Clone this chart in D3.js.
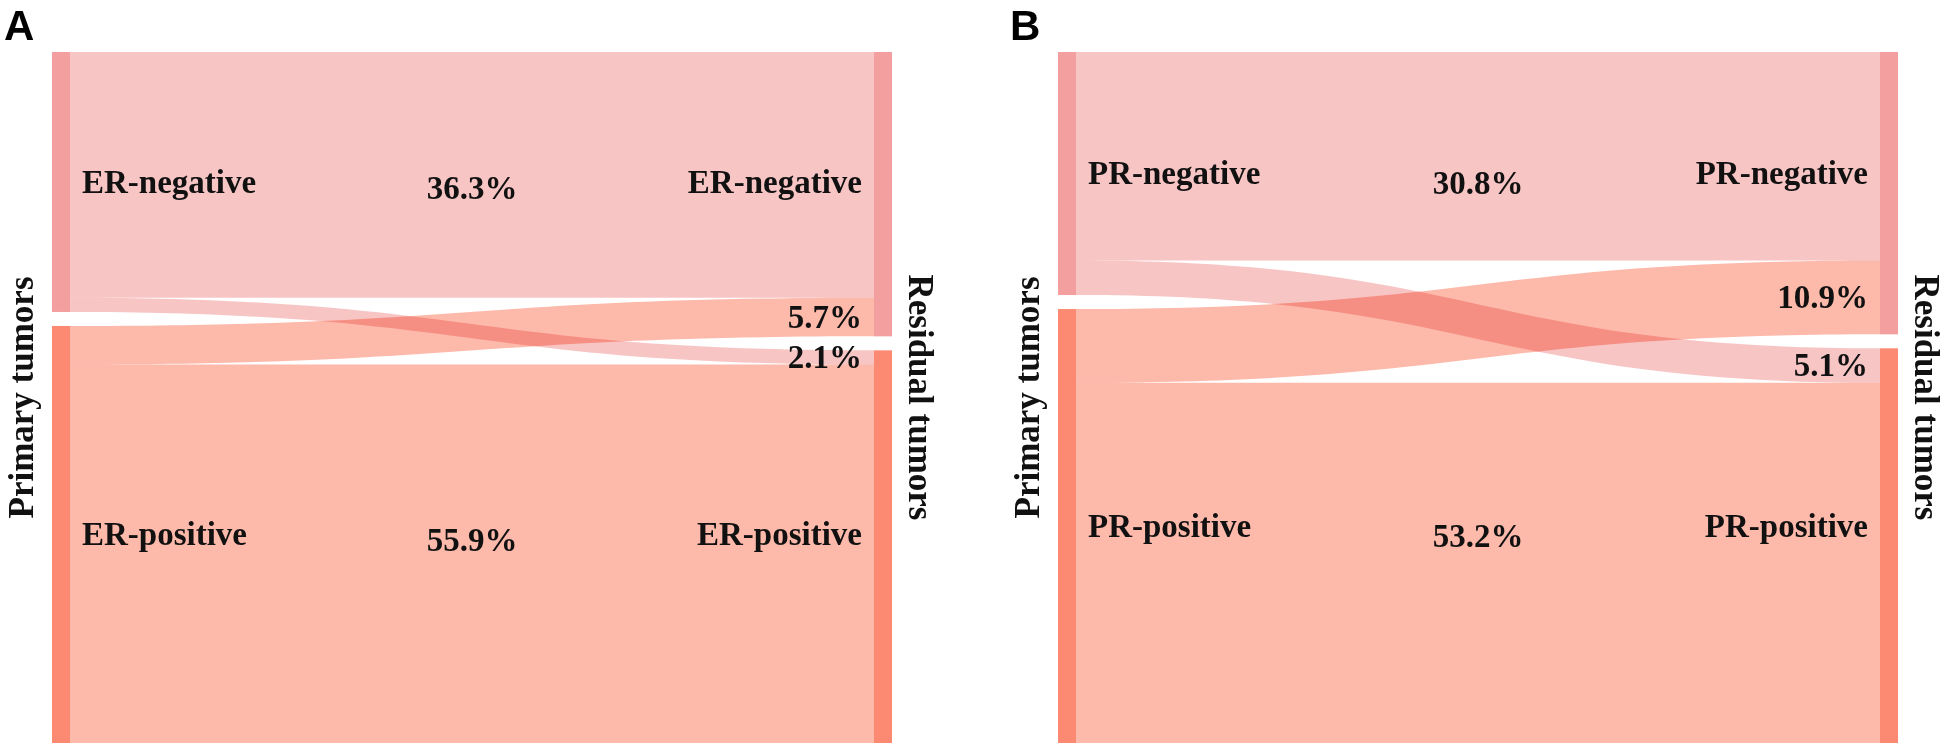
<!DOCTYPE html>
<html>
<head>
<meta charset="utf-8">
<script src="https://cdn.jsdelivr.net/npm/d3@7"></script>
<style>
  body { margin: 0; background: #fff; }
  svg { display: block; }
</style>
</head>
<body>
<div id="chart"></div>
<script>
// categories and flows (% of patients), primary status -> residual status
const panelLetters = ["A", "B"];
const erLabels = ["ER-negative", "ER-positive"];
const prLabels = ["PR-negative", "PR-positive"];
// rows: primary [negative, positive]; cols: residual [negative, positive]
const erFlows = [[36.3, 2.1], [5.7, 55.9]];
const prFlows = [[30.8, 5.1], [10.9, 53.2]];
const leftTitle = "Primary tumors";
const rightTitle = "Residual tumors";

const width = 1948, height = 745;
const margin = {top: 52, bottom: 2};
const nodeWidth = 18, nodeGap = 14, panelWidth = 840;
const panelX = [52, 1058];
const colors = ["#f39f9f", "#fc8a72"];

const svg = d3.select("#chart").append("svg")
    .attr("width", width)
    .attr("height", height)
    .attr("viewBox", [0, 0, width, height]);

svg.append("rect").attr("width", width).attr("height", height).attr("fill", "#fff");

const y = d3.scaleLinear()
    .domain([0, 100])
    .range([0, height - margin.top - margin.bottom - nodeGap]);

function stackNodes(totals) {
  let y0 = margin.top;
  return totals.map((v, i) => {
    const n = {index: i, value: v, y0: y0, y1: y0 + y(v)};
    y0 = n.y1 + nodeGap;
    return n;
  });
}

function ribbon(x0, x1, s0, s1, t0, t1) {
  const xm = (x0 + x1) / 2;
  const p = d3.path();
  p.moveTo(x0, s0);
  p.bezierCurveTo(xm, s0, xm, t0, x1, t0);
  p.lineTo(x1, t1);
  p.bezierCurveTo(xm, t1, xm, s1, x0, s1);
  p.closePath();
  return p.toString();
}

function drawPanel(flows, labels, letter, px) {
  const g = svg.append("g").attr("class", "panel-" + letter);
  const xl = px, xr = px + panelWidth - nodeWidth;
  const midX = px + panelWidth / 2;

  const left = stackNodes(flows.map(r => d3.sum(r)));
  const right = stackNodes(flows[0].map((_, j) => d3.sum(flows, r => r[j])));

  // link offsets at each node side
  const links = [];
  const srcOff = left.map(n => n.y0);
  const tgtOff = right.map(n => n.y0);
  flows.forEach((row, i) => row.forEach((v, j) => {
    links.push({source: i, target: j, value: v});
  }));
  links.forEach(l => {
    l.sy0 = srcOff[l.source]; l.sy1 = l.sy0 + y(l.value); srcOff[l.source] = l.sy1;
  });
  // at the target, links are stacked by source order
  links.slice().sort((a, b) => d3.ascending(a.target, b.target) || d3.ascending(a.source, b.source))
    .forEach(l => {
      l.ty0 = tgtOff[l.target]; l.ty1 = l.ty0 + y(l.value); tgtOff[l.target] = l.ty1;
    });

  g.append("g")
      .attr("class", "links")
    .selectAll("path")
    .data(links)
    .join("path")
      .attr("d", l => ribbon(xl + nodeWidth, xr, l.sy0, l.sy1, l.ty0, l.ty1))
      .attr("fill", l => colors[l.source])
      .attr("fill-opacity", 0.6)
      .style("mix-blend-mode", "multiply");

  g.append("g")
      .attr("class", "nodes")
    .selectAll("rect")
    .data(left.map(n => ({...n, x: xl})).concat(right.map(n => ({...n, x: xr}))))
    .join("rect")
      .attr("x", d => d.x)
      .attr("y", d => d.y0)
      .attr("width", nodeWidth)
      .attr("height", d => d.y1 - d.y0)
      .attr("fill", d => colors[d.index]);

  const text = g.append("g")
      .attr("font-family", "'Liberation Serif', 'Times New Roman', serif")
      .attr("font-weight", "bold")
      .attr("font-size", 33)
      .attr("fill", "#111");

  // category labels, both sides on the row of the primary node
  left.forEach((n, i) => {
    const cy = (n.y0 + n.y1) / 2;
    text.append("text")
        .attr("x", xl + nodeWidth + 12).attr("y", cy).attr("dy", "0.33em")
        .text(labels[i]);
    text.append("text")
        .attr("x", xr - 12).attr("y", cy).attr("dy", "0.33em")
        .attr("text-anchor", "end")
        .text(labels[i]);
  });

  const fmt = v => d3.format(".1f")(v) + "%";
  links.forEach(l => {
    if (l.source === l.target) {
      const ln = left[l.source], rn = right[l.target];
      const cy = ((ln.y0 + ln.y1) / 2 + (rn.y0 + rn.y1) / 2) / 2;
      text.append("text")
          .attr("x", midX).attr("y", cy).attr("dy", "0.33em")
          .attr("text-anchor", "middle")
          .text(fmt(l.value));
    } else {
      text.append("text")
          .attr("x", xr - 12).attr("y", (l.ty0 + l.ty1) / 2).attr("dy", "0.33em")
          .attr("text-anchor", "end")
          .text(fmt(l.value));
    }
  });

  const midY = (margin.top + height - margin.bottom) / 2;
  text.append("text")
      .attr("transform", `translate(${xl - 19},${midY}) rotate(-90)`)
      .attr("text-anchor", "middle")
      .attr("font-size", 35)
      .text(leftTitle);
  text.append("text")
      .attr("transform", `translate(${xr + nodeWidth + 17},${midY}) rotate(90)`)
      .attr("text-anchor", "middle")
      .attr("font-size", 35)
      .text(rightTitle);

  svg.append("text")
      .attr("x", px - 48)
      .attr("y", 40)
      .attr("font-family", "'Liberation Sans', Arial, sans-serif")
      .attr("font-weight", 700)
      .attr("font-size", 42)
      .attr("fill", "#000")
      .text(letter);
}

drawPanel(erFlows, erLabels, panelLetters[0], panelX[0]);
drawPanel(prFlows, prLabels, panelLetters[1], panelX[1]);
</script>
</body>
</html>
